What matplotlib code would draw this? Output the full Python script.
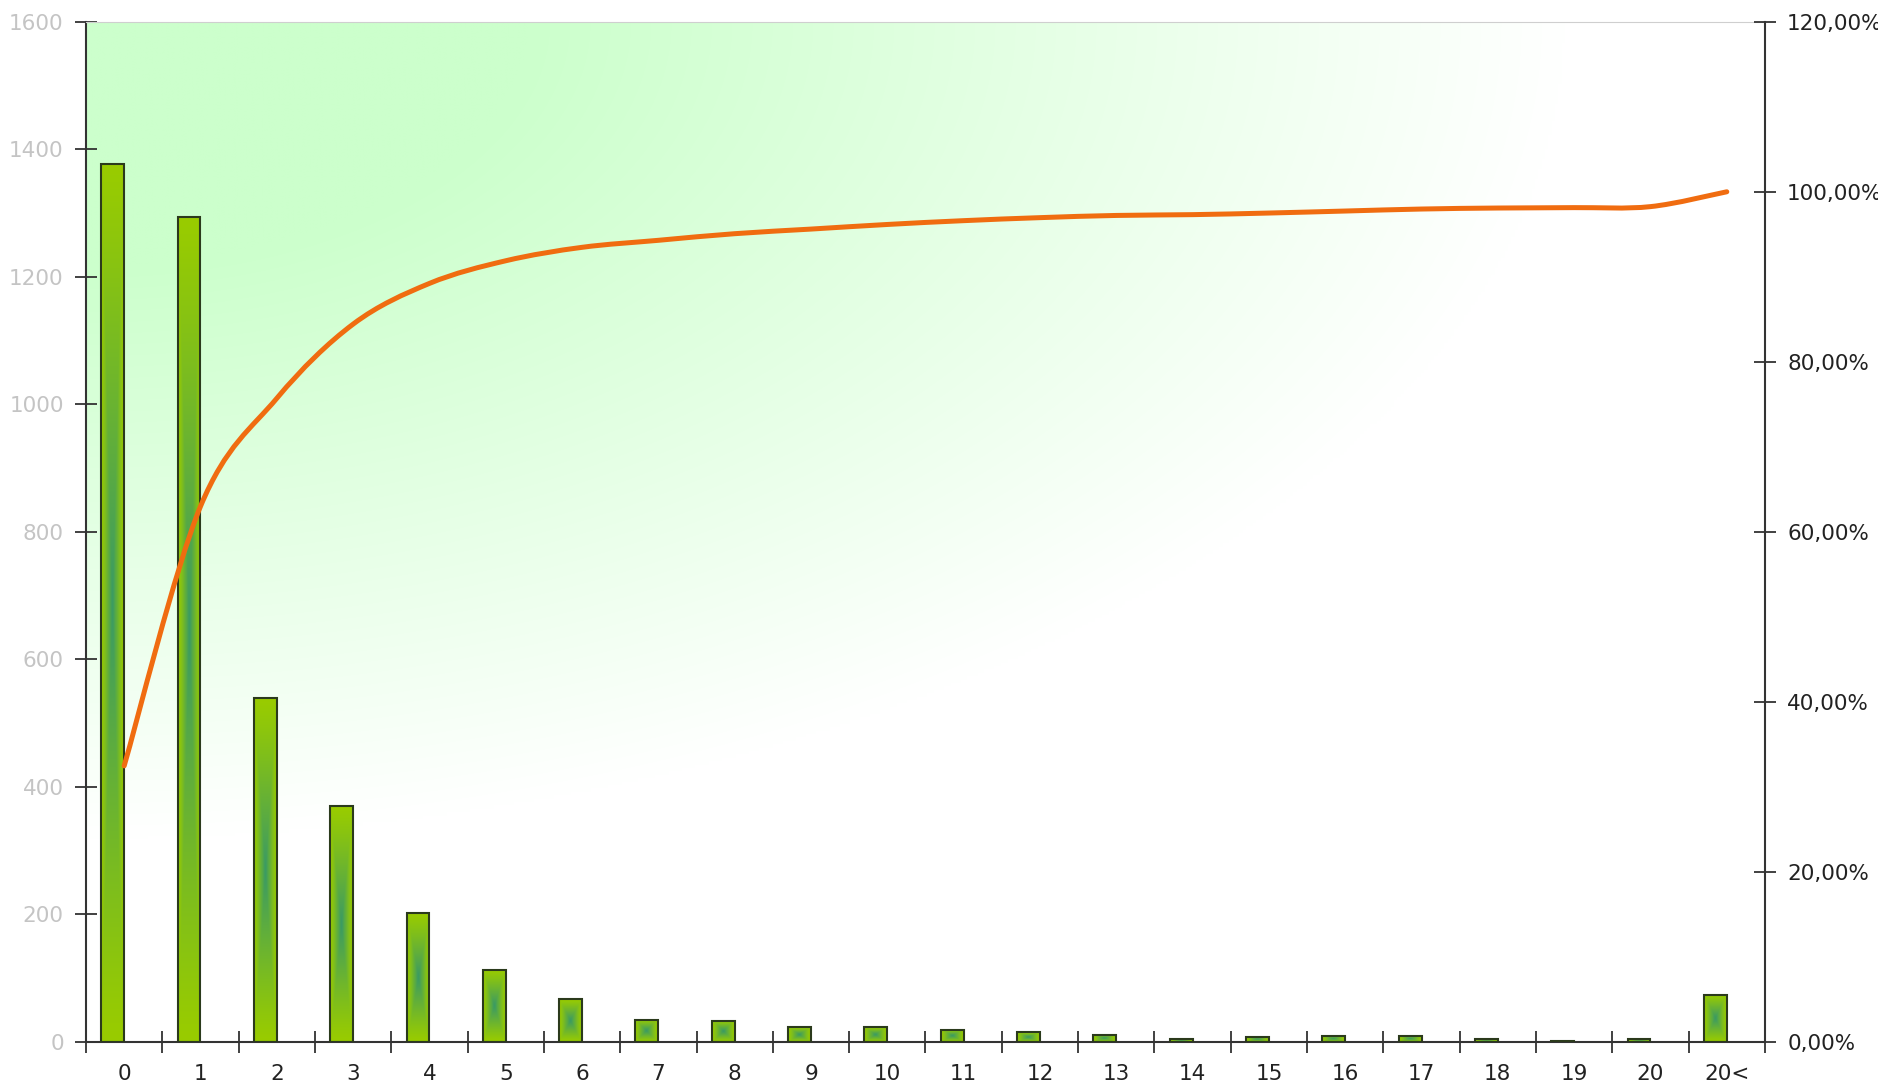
import numpy as np
import matplotlib.pyplot as plt
from matplotlib.patches import Rectangle
from matplotlib.path import Path
from matplotlib.patches import PathPatch

plt.rcParams['font.family'] = ['DejaVu Sans']

categories = ['0', '1', '2', '3', '4', '5', '6', '7', '8', '9', '10',
              '11', '12', '13', '14', '15', '16', '17', '18', '19', '20', '20<']
counts = [1377, 1294, 539, 370, 203, 113, 67, 35, 33, 23, 23,
          19, 15, 11, 4, 8, 10, 10, 5, 2, 5, 74]
left_ticks = [0, 200, 400, 600, 800, 1000, 1200, 1400, 1600]
right_ticks = [0, 20, 40, 60, 80, 100, 120]

counts_arr = np.array(counts, dtype=float)
cum_pct = np.cumsum(counts_arr) / counts_arr.sum() * 100
x = np.arange(len(categories))

fig = plt.figure(figsize=(18.78, 10.87), dpi=100)
ax = fig.add_axes([0.0458, 0.0414, 0.894, 0.9386])

# background: green fading to white away from the top-left corner
gy, gx = np.mgrid[0:1:300j, 0:1:500j]
d = np.sqrt((gx / 0.88) ** 2 + (gy / 0.8) ** 2)
g = np.clip((1 - d) / 0.7, 0, 1)
green = np.array([0.80, 1.0, 0.80])
bg = 1 - (1 - green)[None, None, :] * g[:, :, None]
ax.imshow(bg, extent=[0, 1, 0, 1], transform=ax.transAxes, aspect='auto',
          zorder=0, interpolation='bilinear')

# bars with a centre-out gradient
edge_col = np.array([0.60, 0.80, 0.0])
mid_col = np.array([0.22, 0.60, 0.40])
bw = 0.3
for xi, h in zip(x, counts):
    x0 = xi - bw
    dy, dx = np.mgrid[-1:1:200j, -1:1:40j]
    t = np.maximum(np.abs(dx), np.abs(dy))
    w = (1 - t) ** 1.2
    img = edge_col[None, None, :] * (1 - w[:, :, None]) + mid_col[None, None, :] * w[:, :, None]
    im = ax.imshow(img, extent=[x0, x0 + bw, 0, h], aspect='auto', zorder=2,
                   interpolation='bilinear')
    rect = Rectangle((x0, 0), bw, h, facecolor='none', edgecolor='#2b3a1c',
                     linewidth=1.5, zorder=3)
    ax.add_patch(rect)
    im.set_clip_path(rect)

ax.set_xlim(-0.5, len(categories) - 0.5)
ax.set_ylim(0, 1600)
ax.set_yticks(left_ticks)
ax.set_yticklabels([str(v) for v in left_ticks])
ax.set_xticks(np.arange(-0.5, len(categories), 1.0))
ax.set_xticklabels([])
ax.set_xticks(x, minor=True)
ax.set_xticklabels(categories, minor=True)
ax.tick_params(axis='x', which='major', direction='inout', length=16, width=1.3, color='#333333')
ax.tick_params(axis='x', which='minor', length=0, pad=16, labelsize=15.5, labelcolor='#222222')
ax.tick_params(axis='y', direction='inout', length=16, width=1.3, color='#333333',
               pad=8, labelsize=15.5, labelcolor='#c4c4c4')
for s in ['left', 'bottom']:
    ax.spines[s].set_color('#333333')
    ax.spines[s].set_linewidth(1.5)
ax.spines['top'].set_color('#cfcfcf')
ax.spines['right'].set_visible(False)

# cumulative percentage on the right axis, smoothed curve
ax2 = ax.twinx()
ax2.set_ylim(0, 120)
ax2.set_yticks(right_ticks)
ax2.set_yticklabels([f'{v},00%' for v in right_ticks])
ax2.tick_params(axis='y', direction='inout', length=16, width=1.3, color='#333333',
                pad=8, labelsize=15.5, labelcolor='#222222')
for s in ['left', 'top', 'bottom']:
    ax2.spines[s].set_visible(False)
ax2.spines['right'].set_color('#333333')
ax2.spines['right'].set_linewidth(1.5)

pts = np.column_stack([x, cum_pct])
verts = [pts[0]]
codes = [Path.MOVETO]
n = len(pts)
for i in range(n - 1):
    p0 = pts[max(i - 1, 0)]
    p1 = pts[i]
    p2 = pts[i + 1]
    p3 = pts[min(i + 2, n - 1)]
    c1 = p1 + (p2 - p0) / 6
    c2 = p2 - (p3 - p1) / 6
    verts += [c1, c2, p2]
    codes += [Path.CURVE4] * 3
ax2.add_patch(PathPatch(Path(verts, codes), facecolor='none', edgecolor='#f06c10',
                        linewidth=3.6, capstyle='round', zorder=4))
ax2.set_xlim(-0.5, len(categories) - 0.5)

fig.savefig('out.png', dpi=100)
